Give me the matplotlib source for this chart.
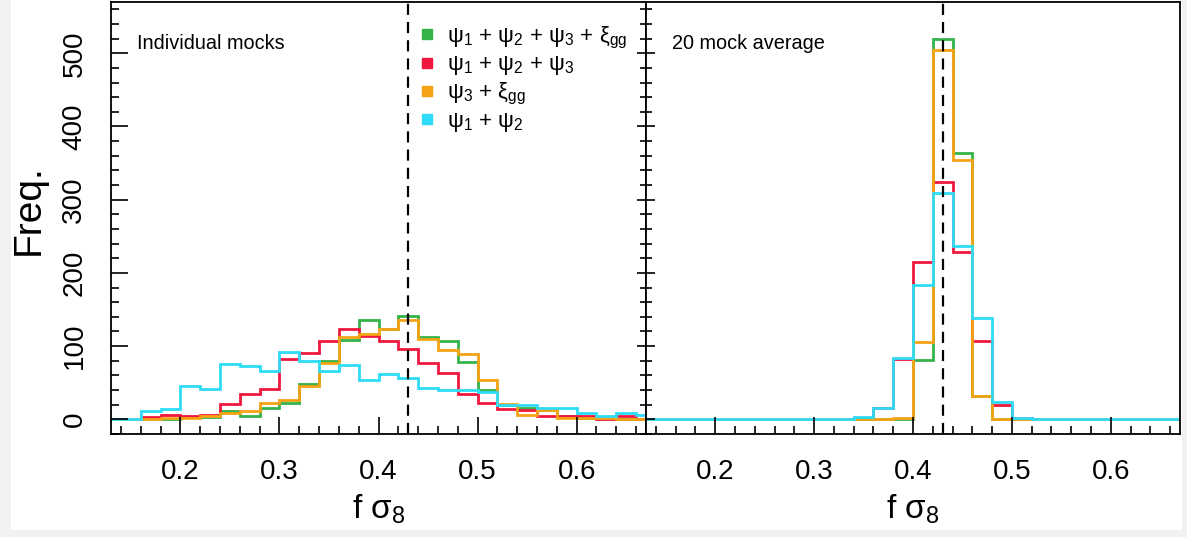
import numpy as np
import matplotlib.pyplot as plt
from matplotlib.lines import Line2D
from matplotlib.patches import Rectangle
from matplotlib.ticker import MultipleLocator, NullFormatter

plt.rcParams['font.family'] = 'Liberation Sans'
plt.rcParams['mathtext.fontset'] = 'custom'
plt.rcParams['mathtext.rm'] = 'Liberation Sans'
plt.rcParams['mathtext.it'] = 'Liberation Sans'
plt.rcParams['mathtext.bf'] = 'Liberation Sans:bold'

# histogram bins in f*sigma8 (width 0.02)
edges = np.round(np.arange(0.12, 0.6801, 0.02), 2)

# individual mocks
ind_all = [0, 0, 0, 1, 3, 3, 12, 5, 15, 23, 48, 80, 109, 136,
           123, 141, 112, 107, 79, 40, 20, 16, 13, 4, 2, 2, 1, 1]
ind_psi123 = [0, 0, 3, 6, 4, 6, 21, 35, 42, 82, 90, 107, 123, 114,
              107, 96, 77, 63, 34, 22, 14, 13, 5, 5, 4, 1, 4, 1]
ind_psi3_xi = [0, 0, 0, 2, 2, 4, 8, 12, 23, 26, 45, 77, 113, 116,
               124, 136, 110, 95, 89, 54, 21, 6, 13, 2, 2, 2, 1, 1]
ind_psi12 = [0, 0, 12, 14, 46, 42, 75, 73, 66, 92, 80, 66, 74, 54,
             62, 57, 43, 40, 40, 38, 19, 19, 15, 15, 8, 4, 9, 6]

# average over 20 mocks
avg_all = [0, 0, 0, 0, 0, 0, 0, 0, 0, 0, 0, 0.5, 1, 1,
           81, 519, 364, 32, 1, 0, 0, 0, 0, 0, 0, 0, 0, 0]
avg_psi123 = [0, 0, 0, 0, 0, 0, 0, 0, 0, 0, 0.5, 2, 16, 83,
              215, 324, 228, 107, 20, 2, 0.5, 0, 0, 0, 0, 0, 0, 0]
avg_psi3_xi = [0, 0, 0, 0, 0, 0, 0, 0, 0, 0, 0, 0.5, 1, 1.3,
               106, 505, 354, 32, 1, 0, 0, 0, 0, 0, 0, 0, 0, 0]
avg_psi12 = [0, 0, 0, 0, 0, 0, 0, 0, 0, 0, 0.5, 3.6, 16, 84,
             183, 309, 237, 139, 24, 1.5, 0.5, 0, 0, 0, 0, 0, 0, 0]

fs8_true = 0.43

labels = ['ψ$_1$ + ψ$_2$ + ψ$_3$ + ξ$_{gg}$',
          'ψ$_1$ + ψ$_2$ + ψ$_3$',
          'ψ$_3$ + ξ$_{gg}$',
          'ψ$_1$ + ψ$_2$']
colors = ['#33b34a', '#f0173f', '#f5a214', '#2edcf7']

W, H = 1187, 537
fig = plt.figure(figsize=(W / 100, H / 100), dpi=100)
fig.patch.set_facecolor('#f1f1f1')
fig.patches.append(Rectangle((11 / W, 7 / H), 1171 / W, 1 - 7 / H,
                             transform=fig.transFigure, facecolor='white',
                             edgecolor='none', zorder=-10))

ax1 = fig.add_axes([111 / W, 103 / H, 535 / W, 432 / H])
ax2 = fig.add_axes([646 / W, 103 / H, 534 / W, 432 / H])

panels = [(ax1, [ind_all, ind_psi123, ind_psi3_xi, ind_psi12], 'Individual mocks'),
          (ax2, [avg_all, avg_psi123, avg_psi3_xi, avg_psi12], '20 mock average')]

for ax, series, title in panels:
    for counts, c in zip(series, colors):
        ax.stairs(counts, edges, color=c, lw=2.0, baseline=0)
    ax.axvline(fs8_true, color='black', lw=1.6, ls=(0, (5, 3.2)))
    ax.set_xlim(0.13, 0.67)
    ax.set_ylim(-20, 570)
    ax.set_xticks([0.2, 0.3, 0.4, 0.5, 0.6])
    ax.xaxis.set_minor_locator(MultipleLocator(0.02))
    ax.yaxis.set_major_locator(MultipleLocator(100))
    ax.yaxis.set_minor_locator(MultipleLocator(20))
    ax.tick_params(axis='x', which='both', direction='in', top=False,
                   width=1.2, labelsize=20, pad=18)
    ax.tick_params(axis='x', which='major', length=12)
    ax.tick_params(axis='x', which='minor', length=6)
    for sp in ax.spines.values():
        sp.set_linewidth(1.3)
    ax.text(0.048, 0.905, title, transform=ax.transAxes, fontsize=14.3,
            ha='left', va='center')
    ax.set_xlabel(r'f $\sigma_8$', fontsize=24)
    ax.xaxis.set_label_coords(0.5, -0.136)

# left panel: labelled y axis on the left, short ticks on the right
ax1.tick_params(axis='y', which='both', direction='in', right=False,
                width=1.2, labelsize=20, pad=17, labelrotation=90)
ax1.tick_params(axis='y', which='major', length=12)
ax1.tick_params(axis='y', which='minor', length=6)
for lbl in ax1.get_yticklabels():
    lbl.set_va('center')

sec = ax1.secondary_yaxis('right')
sec.yaxis.set_major_locator(MultipleLocator(100))
sec.yaxis.set_minor_locator(MultipleLocator(20))
sec.yaxis.set_major_formatter(NullFormatter())
sec.tick_params(axis='y', which='both', direction='in', width=1.2)
sec.tick_params(axis='y', which='major', length=6.8)
sec.tick_params(axis='y', which='minor', length=4.3)
sec.spines['right'].set_linewidth(1.3)

# right panel: short ticks on the shared spine, no labels
ax2.tick_params(axis='y', which='both', direction='in', right=False,
                width=1.2, labelleft=False)
ax2.tick_params(axis='y', which='major', length=6.8)
ax2.tick_params(axis='y', which='minor', length=4.3)

fig.text(29 / W, 1 - 210 / H, 'Freq.', rotation=90, fontsize=28,
         ha='center', va='center')

handles = [Line2D([], [], ls='none', marker='s', ms=7.5, mfc=c, mec=c)
           for c in colors]
ax1.legend(handles, labels, loc='upper left', bbox_to_anchor=(0.578, 0.948),
           frameon=False, fontsize=16, handlelength=0.6, handletextpad=0.6,
           labelspacing=0.17, borderaxespad=0, borderpad=0)

fig.savefig('out.png', dpi=100)
